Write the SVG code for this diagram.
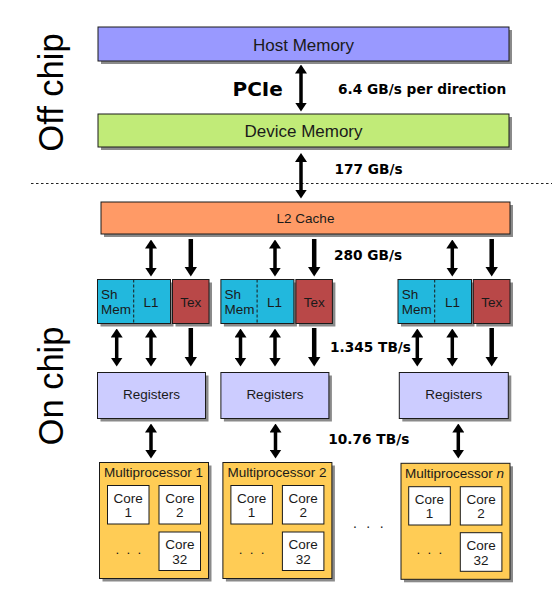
<svg xmlns="http://www.w3.org/2000/svg" width="552" height="604" viewBox="0 0 552 604">
<defs>
<style>
.sh{fill:#8a8a8a}
.bx{stroke:#1a1a1a;stroke-width:1}
.host{fill:#9999ff}
.dev{fill:#c1eb78}
.l2{fill:#ff9a66}
.sm{fill:#22b8dd}
.tex{fill:#b94848}
.reg{fill:#ccccff}
.mp{fill:#ffcc55}
.core{fill:#ffffff}
.div{stroke:#1a1a1a;stroke-width:1;stroke-dasharray:3,2}
.t{font-family:"Liberation Sans",Arial,sans-serif;fill:#1a1a1a;font-size:13.5px}
.tc{text-anchor:middle}
.big{font-family:"Liberation Sans",Arial,sans-serif;font-size:34.5px;fill:#000;text-anchor:middle}
.b{font-family:"DejaVu Sans",Verdana,sans-serif;font-weight:bold;font-size:13.7px;fill:#000}
.a1{stroke:#000;stroke-width:3.5;fill:none;marker-start:url(#ah);marker-end:url(#ah)}
.a2{stroke:#000;stroke-width:4.5;fill:none;marker-end:url(#ah2)}
</style>
<marker id="ah" markerUnits="userSpaceOnUse" viewBox="0 0 9 12" markerWidth="9" markerHeight="12" refX="0.5" refY="6" orient="auto-start-reverse"><path d="M0,0 L9,6 L0,12 z" fill="#000"/></marker>
<marker id="ah2" markerUnits="userSpaceOnUse" viewBox="0 0 10 13" markerWidth="10" markerHeight="13" refX="0.5" refY="6.5" orient="auto"><path d="M0,0 L10,6.5 L0,13 z" fill="#000"/></marker>
</defs>
<rect width="552" height="604" fill="#ffffff"/>

<text class="big" transform="translate(63,92.5) rotate(-90)">Off chip</text>
<text class="big" transform="translate(63,386) rotate(-90)">On chip</text>
<line x1="31" y1="183.5" x2="552" y2="183.5" stroke="#222" stroke-width="1" stroke-dasharray="2.5,2.5"/>

<g id="host-memory">
<rect class="sh" x="101" y="30" width="411" height="34"/>
<rect class="bx host" x="98" y="27" width="411" height="34"/>
<text class="t tc" x="303.5" y="50.7" style="font-size:17px">Host Memory</text>
</g>
<g id="device-memory">
<rect class="sh" x="101" y="117" width="411" height="33"/>
<rect class="bx dev" x="98" y="114" width="411" height="33"/>
<text class="t tc" x="303.5" y="137.3" style="font-size:17px">Device Memory</text>
</g>
<g id="l2-cache">
<rect class="sh" x="104" y="205" width="409" height="32"/>
<rect class="bx l2" x="101" y="202" width="409" height="32"/>
<text class="t tc" x="305.5" y="223">L2 Cache</text>
</g>

<g id="smem-l1-1">
<rect class="sh" x="100.5" y="282.5" width="73" height="44"/>
<rect class="bx sm" x="97.5" y="279.5" width="73" height="44"/>
<line class="div" x1="133.7" y1="279.5" x2="133.7" y2="323.5"/>
<text class="t" x="101" y="299">Sh</text>
<text class="t" x="101" y="314.3">Mem</text>
<text class="t tc" x="151" y="306.7">L1</text>
</g>
<g id="tex-1">
<rect class="sh" x="175.5" y="282.5" width="36.5" height="44"/>
<rect class="bx tex" x="172.5" y="279.5" width="36.5" height="44"/>
<text class="t tc" x="190.8" y="306.7">Tex</text>
</g>
<g id="registers-1">
<rect class="sh" x="100.5" y="375.5" width="108" height="46"/>
<rect class="bx reg" x="97.5" y="372.5" width="108" height="46"/>
<text class="t tc" x="151.5" y="399">Registers</text>
</g>
<g id="multiprocessor-1">
<rect class="sh" x="102.5" y="465.5" width="109" height="116"/>
<rect class="bx mp" x="99.5" y="462.5" width="109" height="116"/>
<text class="t" x="104" y="476.7">Multiprocessor 1</text>
<rect class="bx core" x="107.5" y="485.5" width="41.5" height="38.5"/>
<text class="t tc" x="128.2" y="502.7">Core</text>
<text class="t tc" x="128.2" y="517.3">1</text>
<rect class="bx core" x="159" y="485.5" width="41.5" height="38.5"/>
<text class="t tc" x="179.8" y="502.7">Core</text>
<text class="t tc" x="179.8" y="517.3">2</text>
<rect class="bx core" x="159" y="532" width="41.5" height="38.5"/>
<text class="t tc" x="179.8" y="549.3">Core</text>
<text class="t tc" x="179.8" y="564">32</text>
<text class="t tc" x="117.3 128.3 139.3" y="553.5">...</text>
</g>

<g id="smem-l1-2">
<rect class="sh" x="223.9" y="282.5" width="73" height="44"/>
<rect class="bx sm" x="220.9" y="279.5" width="73" height="44"/>
<line class="div" x1="257.1" y1="279.5" x2="257.1" y2="323.5"/>
<text class="t" x="224.4" y="299">Sh</text>
<text class="t" x="224.4" y="314.3">Mem</text>
<text class="t tc" x="274.4" y="306.7">L1</text>
</g>
<g id="tex-2">
<rect class="sh" x="298.9" y="282.5" width="36.5" height="44"/>
<rect class="bx tex" x="295.9" y="279.5" width="36.5" height="44"/>
<text class="t tc" x="314.2" y="306.7">Tex</text>
</g>
<g id="registers-2">
<rect class="sh" x="223.9" y="375.5" width="108" height="46"/>
<rect class="bx reg" x="220.9" y="372.5" width="108" height="46"/>
<text class="t tc" x="274.9" y="399">Registers</text>
</g>
<g id="multiprocessor-2">
<rect class="sh" x="225.9" y="465.5" width="109" height="116"/>
<rect class="bx mp" x="222.9" y="462.5" width="109" height="116"/>
<text class="t" x="227.4" y="476.7">Multiprocessor 2</text>
<rect class="bx core" x="230.9" y="485.5" width="41.5" height="38.5"/>
<text class="t tc" x="251.6" y="502.7">Core</text>
<text class="t tc" x="251.6" y="517.3">1</text>
<rect class="bx core" x="282.4" y="485.5" width="41.5" height="38.5"/>
<text class="t tc" x="303.2" y="502.7">Core</text>
<text class="t tc" x="303.2" y="517.3">2</text>
<rect class="bx core" x="282.4" y="532" width="41.5" height="38.5"/>
<text class="t tc" x="303.2" y="549.3">Core</text>
<text class="t tc" x="303.2" y="564">32</text>
<text class="t tc" x="240.7 251.7 262.7" y="553.5">...</text>
</g>

<text class="t tc" x="355 368.3 381.7" y="527.5" style="font-size:14px">...</text>

<g id="smem-l1-n">
<rect class="sh" x="401" y="282.5" width="73.5" height="44"/>
<rect class="bx sm" x="398" y="279.5" width="73.5" height="44"/>
<line class="div" x1="434.7" y1="279.5" x2="434.7" y2="323.5"/>
<text class="t" x="401.7" y="299">Sh</text>
<text class="t" x="401.7" y="314.3">Mem</text>
<text class="t tc" x="452.5" y="306.7">L1</text>
</g>
<g id="tex-n">
<rect class="sh" x="476.3" y="282.5" width="36.7" height="44"/>
<rect class="bx tex" x="473.3" y="279.5" width="36.7" height="44"/>
<text class="t tc" x="491.7" y="306.7">Tex</text>
</g>
<g id="registers-n">
<rect class="sh" x="402.3" y="375.5" width="109" height="46"/>
<rect class="bx reg" x="399.3" y="372.5" width="109" height="46"/>
<text class="t tc" x="453.8" y="399">Registers</text>
</g>
<g id="multiprocessor-n">
<rect class="sh" x="404" y="466.3" width="109" height="116"/>
<rect class="bx mp" x="401" y="463.3" width="109" height="116"/>
<text class="t" x="405" y="478.3">Multiprocessor <tspan font-style="italic">n</tspan></text>
<rect class="bx core" x="408.7" y="486.7" width="41.6" height="38.3"/>
<text class="t tc" x="429.5" y="503.7">Core</text>
<text class="t tc" x="429.5" y="518.3">1</text>
<rect class="bx core" x="460.3" y="486.7" width="41.6" height="38.3"/>
<text class="t tc" x="481.1" y="503.7">Core</text>
<text class="t tc" x="481.1" y="518.3">2</text>
<rect class="bx core" x="460.3" y="532.7" width="41.6" height="38.6"/>
<text class="t tc" x="481.1" y="550">Core</text>
<text class="t tc" x="481.1" y="564.7">32</text>
<text class="t tc" x="418.3 429.3 440.3" y="554">...</text>
</g>

<g id="connectors">
<line class="a1" x1="301" y1="73" x2="301" y2="103"/>
<line class="a1" x1="301" y1="161.5" x2="301" y2="190"/>
<line class="a1" x1="151" y1="248" x2="151" y2="268"/>
<line class="a2" x1="190.8" y1="239" x2="190.8" y2="267"/>
<line class="a1" x1="275" y1="248" x2="275" y2="268"/>
<line class="a2" x1="314.2" y1="239" x2="314.2" y2="267"/>
<line class="a1" x1="452.3" y1="248" x2="452.3" y2="268"/>
<line class="a2" x1="491.7" y1="239" x2="491.7" y2="267"/>
<line class="a1" x1="116.7" y1="337" x2="116.7" y2="358"/>
<line class="a1" x1="151" y1="337" x2="151" y2="358"/>
<line class="a2" x1="190.8" y1="328" x2="190.8" y2="357"/>
<line class="a1" x1="240.5" y1="337" x2="240.5" y2="358"/>
<line class="a1" x1="275" y1="337" x2="275" y2="358"/>
<line class="a2" x1="314.2" y1="328" x2="314.2" y2="357"/>
<line class="a1" x1="417.3" y1="337" x2="417.3" y2="358"/>
<line class="a1" x1="452.3" y1="337" x2="452.3" y2="358"/>
<line class="a2" x1="491.7" y1="328" x2="491.7" y2="357"/>
<line class="a1" x1="151" y1="432" x2="151" y2="450"/>
<line class="a1" x1="275.5" y1="432" x2="275.5" y2="450"/>
<line class="a1" x1="458.3" y1="432" x2="458.3" y2="450"/>
</g>

<text class="b" x="232.5" y="96" style="font-size:20px">PCIe</text>
<text class="b" x="338" y="94.3">6.4 GB/s per direction</text>
<text class="b" x="334.5" y="174">177 GB/s</text>
<text class="b" x="334" y="260">280 GB/s</text>
<text class="b" x="330" y="351.7">1.345 TB/s</text>
<text class="b" x="328.3" y="444.3">10.76 TB/s</text>
</svg>
